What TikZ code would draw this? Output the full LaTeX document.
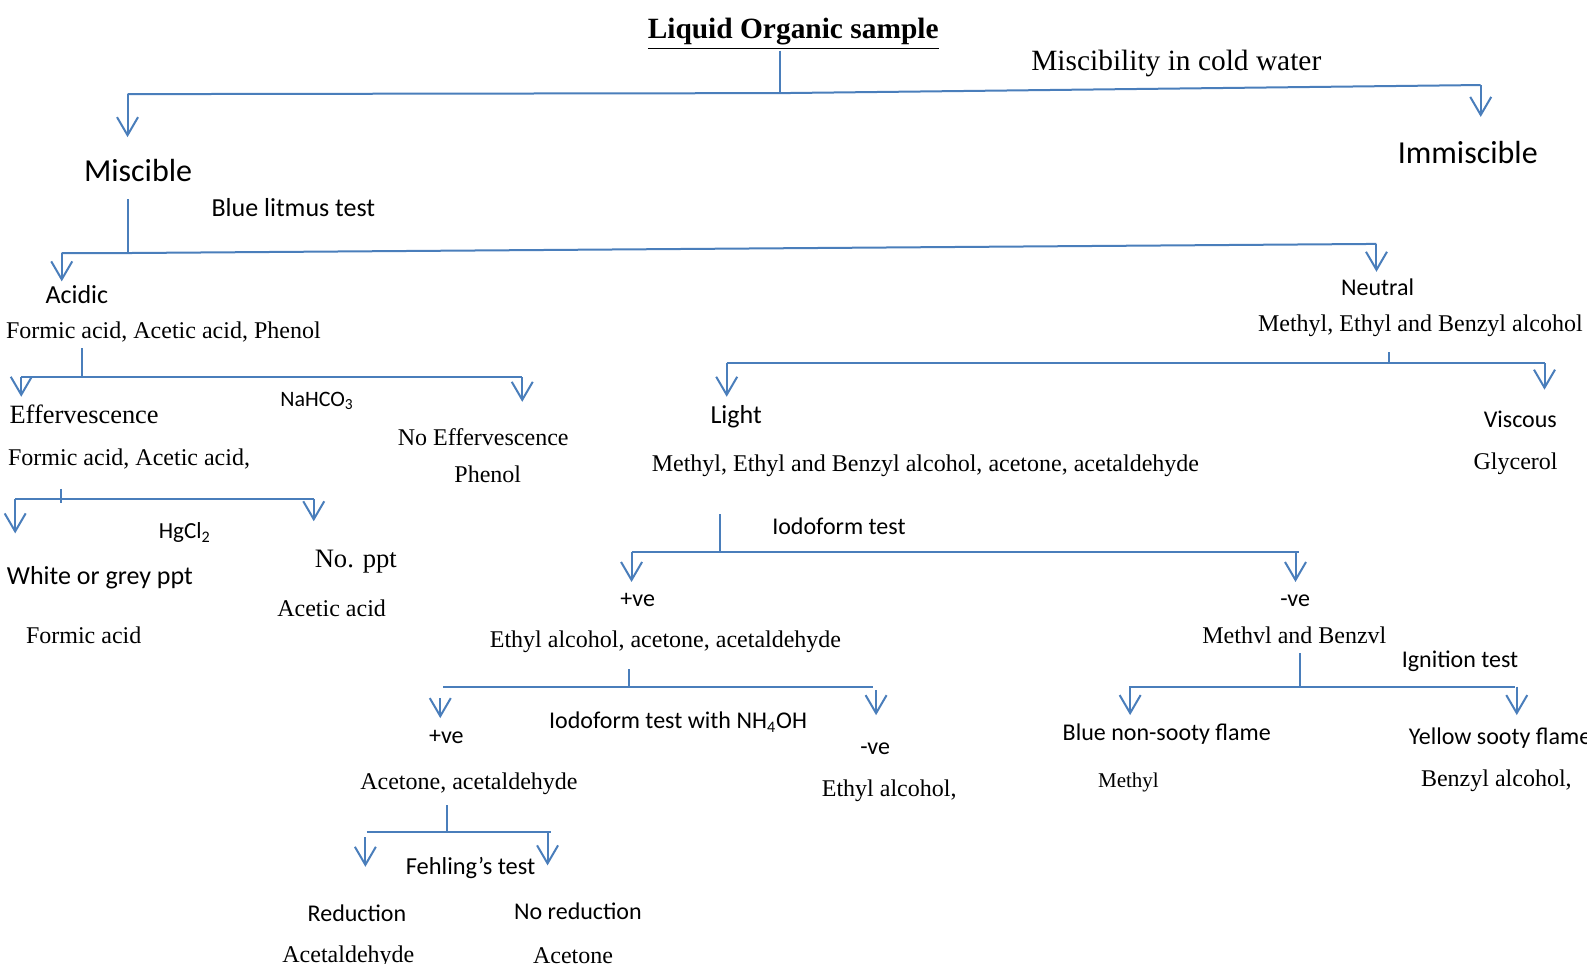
\documentclass[tikz,border=0pt]{standalone}
\usepackage{fontspec}
\setmainfont{Liberation Serif}
\newfontfamily\calibri{Carlito}
\usetikzlibrary{arrows.meta}
\definecolor{lineblue}{HTML}{4A7EBB}
\begin{document}
\begin{tikzpicture}[x=0.506pt,y=-0.506pt,
  ln/.style={draw=lineblue,line width=1pt},
  arr/.style={draw=lineblue,line width=1pt,-{Straight Barb[length=9pt,width=10.5pt]}},
  lbl/.style={anchor=mid west,inner sep=0pt,outer sep=0pt,text=black,yshift=-2pt},
  tim/.style={lbl,font={\fontsize{#1}{#1}\selectfont}},
  timb/.style={lbl,font={\bfseries\fontsize{#1}{#1}\selectfont}},
  cal/.style={lbl,font={\calibri\fontsize{#1}{#1}\selectfont}},
  big/.style={yshift=-1.5pt}]
\fill[white] (0,0) rectangle (1568,952);
\useasboundingbox (0,0) rectangle (1568,952);

% ---------- texts ----------
\node[timb=14.7,big] (title) at (640,27) {\underline{Liquid Organic sample}};
\node[tim=14.7,big] (misc) at (1019,58) {Miscibility in cold water};
\node[cal=16,big] (miscible) at (83,168) {Miscible};
\node[cal=16,big] (immiscible) at (1381,150) {Immiscible};
\node[cal=13] (blt) at (209,205) {Blue litmus test};
\node[cal=13] (acidic) at (45,291) {Acidic};
\node[tim=12] (acids) at (6,326) {Formic acid, Acetic acid, Phenol};
\node[cal=12] (neutral) at (1325,283) {Neutral};
\node[tim=12] (alcs) at (1243,319) {Methyl, Ethyl and Benzyl alcohol};
\node[cal=11] (nahco) at (277,393) {NaHCO\textsubscript{3}};
\node[tim=13.2] (eff) at (9.5,410) {Effervescence};
\node[tim=12] (noeff) at (393,432) {No Effervescence};
\node[tim=12] (phenol) at (449,468) {Phenol};
\node[tim=12] (fa) at (8,451) {Formic acid, Acetic acid,};
\node[cal=11.5] (hgcl) at (157,524) {HgCl\textsubscript{2}};
\node[tim=13.3] (noppt) at (311,552) {No. ppt};
\node[cal=13] (wgp) at (6.8,569) {White or grey ppt};
\node[tim=12] (aa) at (274,601) {Acetic acid};
\node[tim=12] (fo) at (25.7,627.5) {Formic acid};
\node[cal=13] (light) at (702,410) {Light};
\node[cal=12] (viscous) at (1466,414) {Viscous};
\node[tim=12] (lightlist) at (644,457) {Methyl, Ethyl and Benzyl alcohol, acetone, acetaldehyde};
\node[tim=12] (glyc) at (1456,455) {Glycerol};
\node[cal=12] (iodo) at (763,520) {Iodoform test};
\node[cal=12] (pve1) at (613,591) {+ve};
\node[cal=12] (nve1) at (1265,591) {-ve};
\node[tim=12] (eaa) at (484,631) {Ethyl alcohol, acetone, acetaldehyde};
\node[tim=12] (mb) at (1188,627) {Methvl and Benzvl};
\node[cal=12] (ign) at (1385,651) {Ignition test};
\node[cal=12] (blue) at (1050,723) {Blue non-sooty flame};
\node[cal=12] (yellow) at (1392,727) {Yellow sooty flame};
\node[tim=10.5] (methyl) at (1085,770) {Methyl};
\node[tim=12] (benzyl) at (1404,769) {Benzyl alcohol,};
\node[cal=12] (iodo2) at (542.5,711.5) {Iodoform test with NH\textsubscript{4}OH};
\node[cal=12] (pve2) at (424,726) {+ve};
\node[cal=12] (nve2) at (850,737) {-ve};
\node[tim=12] (aceacet) at (356,772) {Acetone, acetaldehyde};
\node[tim=12] (ethyl) at (812,778) {Ethyl alcohol,};
\node[cal=12.2] (fehl) at (401,856) {Fehling’s test};
\node[cal=12] (red) at (304,902) {Reduction};
\node[cal=12] (nored) at (508,900) {No reduction};
\node[tim=12] (acetald) at (279,942) {Acetaldehyde};
\node[tim=12] (acetone) at (526.7,943.7) {Acetone};

% ---------- connector points ----------
\coordinate (a0) at (771,50);
\coordinate (a1) at (771,92);
\coordinate (aL) at (126,93);
\coordinate (aR) at (1463,84);
\coordinate (aLt) at (126,135.5);
\coordinate (aRt) at (1463,115.5);
\coordinate (b0) at (126,197);
\coordinate (b1) at (126,250);
\coordinate (bL) at (61,250);
\coordinate (bR) at (1360,241);
\coordinate (bLt) at (61,278);
\coordinate (bRt) at (1360,268.5);
\coordinate (c0) at (81,344);
\coordinate (c1) at (81,372.5);
\coordinate (cL) at (21,372.5);
\coordinate (cR) at (516,372.5);
\coordinate (cLt) at (21,392);
\coordinate (cRt) at (516,397);
\coordinate (d0) at (60.5,483);
\coordinate (d1) at (60.5,497);
\coordinate (dL) at (15,493);
\coordinate (dR) at (310,493);
\coordinate (dLt) at (15,527);
\coordinate (dRt) at (310,515);
\coordinate (e0) at (1372,348);
\coordinate (e1) at (1372,359);
\coordinate (eL) at (718,359);
\coordinate (eR) at (1526,359);
\coordinate (eLt) at (718,392);
\coordinate (eRt) at (1526,385);
\coordinate (f0) at (711,508);
\coordinate (f1) at (711,545.5);
\coordinate (fL) at (624,545.5);
\coordinate (fR) at (1283,545.5);
\coordinate (fRs) at (1280,545.5);
\coordinate (fLt) at (624,575);
\coordinate (fRt) at (1280,575);
\coordinate (g0) at (621.5,661);
\coordinate (g1) at (621.5,678.5);
\coordinate (gL) at (438,678.5);
\coordinate (gR) at (863,678.5);
\coordinate (gLs) at (435,690);
\coordinate (gRs) at (865.6,682);
\coordinate (gLt) at (435,709.5);
\coordinate (gRt) at (865.6,706.6);
\coordinate (h0) at (441.7,795.5);
\coordinate (h1) at (441.7,822);
\coordinate (hL) at (362.6,822);
\coordinate (hR) at (544.6,822);
\coordinate (hLs) at (361,827);
\coordinate (hRs) at (541,823);
\coordinate (hLt) at (361,856.4);
\coordinate (hRt) at (541,855);
\coordinate (i0) at (1284,645.5);
\coordinate (i1) at (1284,678.5);
\coordinate (iL) at (1115.6,678.5);
\coordinate (iR) at (1497,678.5);
\coordinate (iLs) at (1116.6,678.5);
\coordinate (iRs) at (1498.6,678.5);
\coordinate (iLt) at (1116.6,706.5);
\coordinate (iRt) at (1498.6,706.5);

% ---------- connectors ----------
\draw[ln] (a0) -- (a1);
\draw[ln] (aL) -- (a1) -- (aR);
\draw[arr] (aL) -- (aLt);
\draw[arr] (aR) -- (aRt);

\draw[ln] (b0) -- (b1);
\draw[ln] (bL) -- (b1) -- (bR);
\draw[arr] (bL) -- (bLt);
\draw[arr] (bR) -- (bRt);

\draw[ln] (c0) -- (c1);
\draw[ln] (cL) -- (cR);
\draw[arr] (cL) -- (cLt);
\draw[arr] (cR) -- (cRt);

\draw[ln] (d0) -- (d1);
\draw[ln] (dL) -- (dR);
\draw[arr] (dL) -- (dLt);
\draw[arr] (dR) -- (dRt);

\draw[ln] (e0) -- (e1);
\draw[ln] (eL) -- (eR);
\draw[arr] (eL) -- (eLt);
\draw[arr] (eR) -- (eRt);

\draw[ln] (f0) -- (f1);
\draw[ln] (fL) -- (fR);
\draw[arr] (fL) -- (fLt);
\draw[arr] (fRs) -- (fRt);

\draw[ln] (g0) -- (g1);
\draw[ln] (gL) -- (gR);
\draw[arr] (gLs) -- (gLt);
\draw[arr] (gRs) -- (gRt);

\draw[ln] (h0) -- (h1);
\draw[ln] (hL) -- (hR);
\draw[arr] (hLs) -- (hLt);
\draw[arr] (hRs) -- (hRt);

\draw[ln] (i0) -- (i1);
\draw[ln] (iL) -- (iR);
\draw[arr] (iLs) -- (iLt);
\draw[arr] (iRs) -- (iRt);
\end{tikzpicture}
\end{document}
